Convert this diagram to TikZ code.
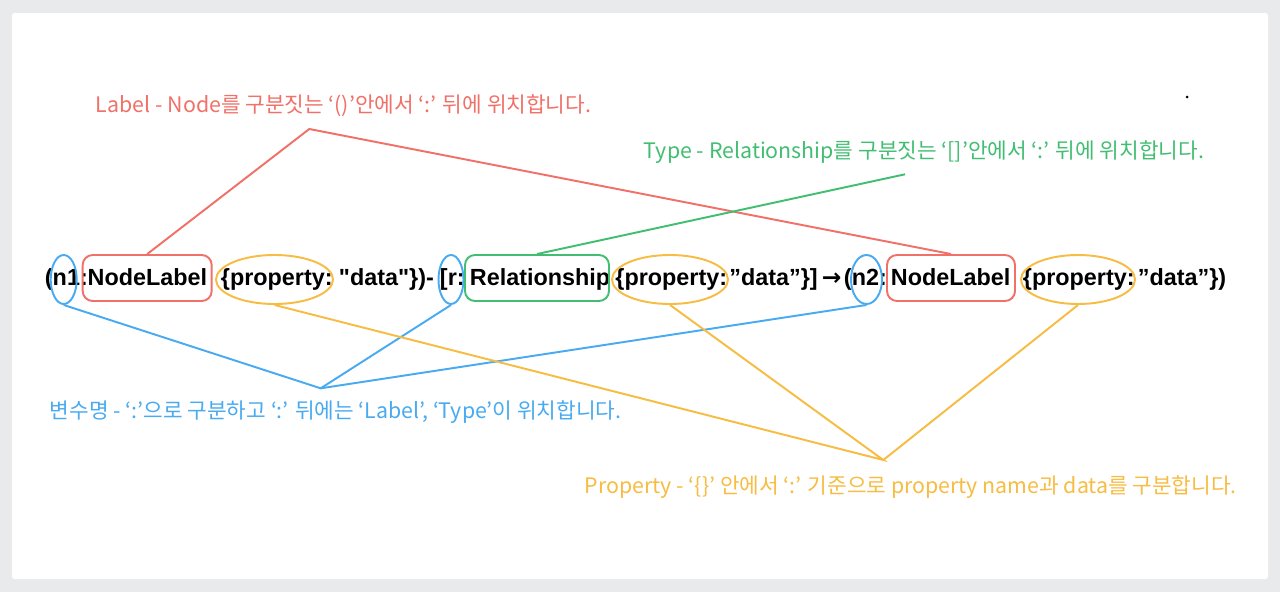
\documentclass[tikz,border=0pt]{standalone}
\usepackage{fontspec}
\setmainfont{Liberation Sans}
\newfontfamily\krfont{Noto Sans CJK KR}
\newfontfamily\arrowfont{DejaVu Sans}
\usetikzlibrary{shapes}
\definecolor{labelred}{RGB}{241,112,104}
\definecolor{typegreen}{RGB}{66,190,114}
\definecolor{varblue}{RGB}{72,170,240}
\definecolor{proporange}{RGB}{247,188,66}
\definecolor{framegray}{RGB}{233,234,236}
\def\px{0.02cm}

\begin{document}
\begin{tikzpicture}[x=0.02cm,y=-0.02cm,line width=1.1pt]
            \tikzstyle{code}=[inner sep=0pt,anchor=base west,font=\bfseries\fontsize{13.3}{16}\selectfont]
            \tikzstyle{note}=[inner sep=0pt,anchor=west,font=\krfont\fontsize{12.15}{14}\selectfont]
            \tikzstyle{varring}=[ellipse,draw=varblue,inner sep=0pt,minimum height=49*\px]
            \tikzstyle{propring}=[ellipse,draw=proporange,inner sep=0pt,minimum height=49*\px]
            \tikzstyle{labelbox}=[rectangle,rounded corners=0.2cm,draw=labelred,inner sep=0pt,minimum height=46*\px]
            \tikzstyle{typebox}=[rectangle,rounded corners=0.2cm,draw=typegreen,inner sep=0pt,minimum height=46*\px]
            \useasboundingbox (0,0) rectangle (1280,592);
            \fill[framegray] (0,0) rectangle (1280,592);
            \fill[white,rounded corners=0.05cm] (12,13) rectangle (1268,579);
            \fill[black] (1187,97) circle (0.03cm);
            \begin{scope}
            \node[code] (open1) at (44,285) {(n1:};
            \node[code] (label1) at (86.7,285) {NodeLabel};
            \node[code] (prop1) at (220,285) {\{property:};
            \node[code] (data1) at (338,285) {\textquotedbl data\textquotedbl\})-};
            \node[code] (open2) at (439,285) {[r:};
            \node[code] (type1) at (469,285) {Relationship};
            \node[code] (prop2) at (614.5,285) {\{property:};
            \node[code] (data2) at (728.5,285) {”data”\}]};
            \node[code] (arrow1) at (821,285) {\arrowfont\bfseries →};
            \node[code] (open3) at (843,285) {(n2:};
            \node[code] (label2) at (890,285) {NodeLabel};
            \node[code] (prop3) at (1022,285) {\{property:};
            \node[code] (data3) at (1137,285) {”data”\})};
            \end{scope}
            \begin{scope}
            \node[varring,minimum width=26*\px] (var1) at (63.7,279.5) {};
            \node[labelbox,minimum width=129*\px] (lbl1) at (147.2,278) {};
            \node[propring,minimum width=117*\px] (pr1) at (274.5,279.5) {};
            \node[varring,minimum width=25*\px] (var2) at (451,279.5) {};
            \node[typebox,minimum width=144*\px] (typ1) at (537,278) {};
            \node[propring,minimum width=116*\px] (pr2) at (670,279.5) {};
            \node[varring,minimum width=31*\px] (var3) at (866.5,279.5) {};
            \node[labelbox,minimum width=128*\px] (lbl2) at (951,278) {};
            \node[propring,minimum width=114*\px] (pr3) at (1078,279.5) {};
            \end{scope}
            \node[note,text=labelred] (labelnote) at (95,106) {Label - Node를 구분짓는 ‘()’안에서 ‘:’ 뒤에 위치합니다.};
            \node[note,text=typegreen] (typenote) at (643,152) {Type - Relationship를 구분짓는 ‘[]’안에서 ‘:’ 뒤에 위치합니다.};
            \node[note,text=varblue] (varnote) at (49,412) {변수명 - ‘:’으로 구분하고 ‘:’ 뒤에는 ‘Label’, ‘Type’이 위치합니다.};
            \node[note,text=proporange] (propnote) at (584,487) {Property - ‘\{\}’ 안에서 ‘:’ 기준으로 property name과 data를 구분합니다.};
            \coordinate (labeltip) at (309.3,129);
            \coordinate (typetip) at (905,174.3);
            \coordinate (vartip) at (320.7,388.3);
            \coordinate (proptip) at (883.3,460);
            \draw[labelred] (lbl1.north) -- (labeltip) -- (lbl2.north);
            \draw[typegreen] (typ1.north) -- (typetip);
            \draw[varblue] (var1.south) -- (vartip) -- (var2.south);
            \draw[varblue] (vartip) -- (var3.south);
            \draw[proporange] (pr1.south) -- (proptip) -- (pr2.south);
            \draw[proporange] (proptip) -- (pr3.south);
        \end{tikzpicture}
\end{document}
